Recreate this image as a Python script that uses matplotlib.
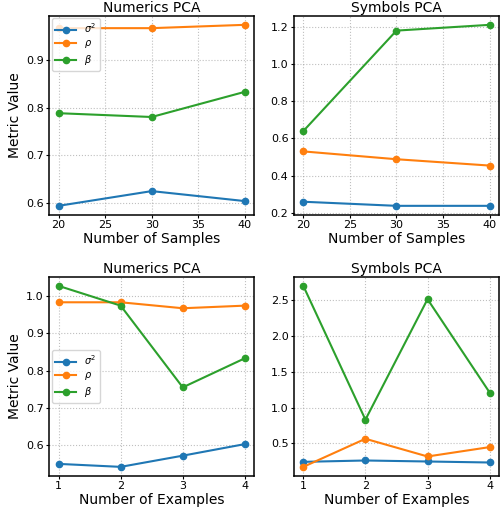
import matplotlib.pyplot as plt

samples = [20, 30, 40]
examples = [1, 2, 3, 4]
labels = [r'$\sigma^2$', r'$\rho$', r'$\beta$']

num_samples = {
    'sigma2': [0.594, 0.625, 0.604],
    'rho': [0.968, 0.968, 0.975],
    'beta': [0.789, 0.781, 0.834],
}
sym_samples = {
    'sigma2': [0.260, 0.238, 0.238],
    'rho': [0.530, 0.488, 0.454],
    'beta': [0.639, 1.178, 1.209],
}
num_examples = {
    'sigma2': [0.550, 0.542, 0.572, 0.603],
    'rho': [0.983, 0.983, 0.967, 0.974],
    'beta': [1.027, 0.974, 0.755, 0.833],
}
sym_examples = {
    'sigma2': [0.243, 0.262, 0.248, 0.234],
    'rho': [0.173, 0.565, 0.318, 0.449],
    'beta': [2.70, 0.832, 2.514, 1.21],
}

fig, axes = plt.subplots(2, 2, figsize=(5.02, 5.09), dpi=100)
plt.subplots_adjust(left=0.098, right=0.994, top=0.969, bottom=0.065,
                    wspace=0.194, hspace=0.311)

panels = [
    (axes[0, 0], samples, num_samples, 'Numerics PCA', 'Number of Samples', 'upper left'),
    (axes[0, 1], samples, sym_samples, 'Symbols PCA', 'Number of Samples', None),
    (axes[1, 0], examples, num_examples, 'Numerics PCA', 'Number of Examples', 'center left'),
    (axes[1, 1], examples, sym_examples, 'Symbols PCA', 'Number of Examples', None),
]

for ax, x, data, title, xlabel, leg in panels:
    for key, lab in zip(['sigma2', 'rho', 'beta'], labels):
        ax.plot(x, data[key], marker='o', markersize=4.5, linewidth=1.5, label=lab)
    ax.set_title(title, fontsize=10, pad=2.5)
    ax.set_xlabel(xlabel, fontsize=10, labelpad=1)
    ax.set_xticks(x if len(x) == 4 else [20, 25, 30, 35, 40])
    ax.tick_params(labelsize=8, length=2.5, pad=1.5)
    ax.grid(True, linestyle=':', color='gray', alpha=0.5)
    for s in ax.spines.values():
        s.set_linewidth(1.1)
    if leg:
        ax.set_ylabel('Metric Value', fontsize=10, labelpad=3)
        ax.legend(loc=leg, fontsize=7, borderaxespad=0.25, labelspacing=0.3,
                  borderpad=0.35, handlelength=2.2)

plt.savefig('out.png', dpi=100)
